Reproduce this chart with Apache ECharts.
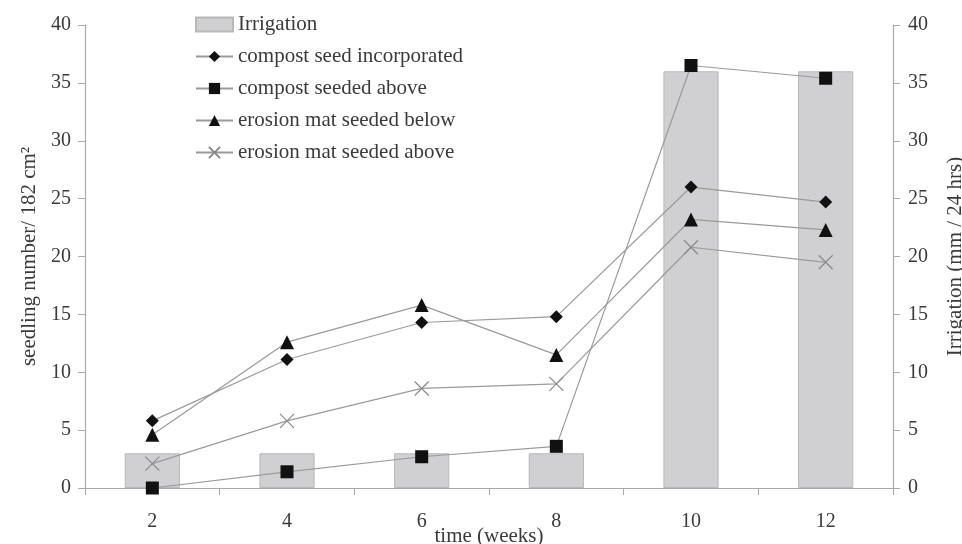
<!DOCTYPE html>
<html><head><meta charset="utf-8">
<script src="https://cdn.jsdelivr.net/npm/echarts@6/dist/echarts.min.js"></script>
<style>html,body{margin:0;padding:0;background:#fff}#c{width:962px;height:544px}</style>
</head><body><div id="c"></div>
<script>
const weeks = ['2','4','6','8','10','12'];
const irrigation = [3, 3, 3, 3, 36, 36];
const compostIncorporated = [5.8, 11.1, 14.3, 14.8, 26.0, 24.7];
const compostAbove = [0, 1.4, 2.7, 3.6, 36.5, 35.4];
const erosionBelow = [4.6, 12.6, 15.8, 11.5, 23.2, 22.3];
const erosionAbove = [2.1, 5.8, 8.6, 9.0, 20.8, 19.5];
const yTicks = {min: 0, max: 40, interval: 5};

const font = 'Liberation Serif, Times New Roman, serif';
const txt = '#3a3a3a';
const lineCol = '#9a9a9a';
const chart = echarts.init(document.getElementById('c'));
const lineSeries = (name, data, symbol, size, extra) => Object.assign({
  name, type: 'line', data, symbol, symbolSize: size, yAxisIndex: 0,
  lineStyle: {color: lineCol, width: 1.2},
  itemStyle: {color: '#111'}, z: 3
}, extra || {});
chart.setOption({
  animation: false,
  textStyle: {fontFamily: font},
  grid: {left: 85, right: 69, top: 25, bottom: 56, outerBoundsMode: 'none', containLabel: false},
  legend: {
    orient: 'vertical', left: 190, top: 9, itemGap: 11, itemWidth: 37, itemHeight: 14,
    textStyle: {fontFamily: font, fontSize: 21, color: txt},
    data: [{name: 'Irrigation', icon: 'rect'},'compost seed incorporated','compost seeded above','erosion mat seeded below','erosion mat seeded above']
  },
  xAxis: {
    type: 'category', data: weeks, boundaryGap: true,
    axisLine: {lineStyle: {color: '#aaa', width: 1.2}},
    axisTick: {show: true, length: 7, lineStyle: {color: '#aaa'}},
    axisLabel: {fontFamily: font, fontSize: 20, color: txt, margin: 24},
    name: 'time (weeks)', nameLocation: 'middle', nameGap: 38, nameMoveOverlap: false,
    nameTextStyle: {fontFamily: font, fontSize: 21, color: txt}
  },
  yAxis: [{
    type: 'value', min: yTicks.min, max: yTicks.max, interval: yTicks.interval,
    axisLine: {show: true, lineStyle: {color: '#aaa', width: 1.2}},
    axisTick: {show: true, length: 7, lineStyle: {color: '#aaa'}},
    splitLine: {show: false},
    axisLabel: {fontFamily: font, fontSize: 20, color: txt, margin: 14},
    name: 'seedling number/ 182 cm²', nameLocation: 'middle', nameGap: 44, nameRotate: 90,
    nameTextStyle: {fontFamily: font, fontSize: 21, color: txt}
  }, {
    type: 'value', min: yTicks.min, max: yTicks.max, interval: yTicks.interval, position: 'right',
    axisLine: {show: true, lineStyle: {color: '#aaa', width: 1.2}},
    axisTick: {show: true, length: 7, lineStyle: {color: '#aaa'}},
    splitLine: {show: false},
    axisLabel: {fontFamily: font, fontSize: 20, color: txt, margin: 15},
    name: 'Irrigation (mm / 24 hrs)', nameLocation: 'middle', nameGap: 52, nameRotate: 90,
    nameTextStyle: {fontFamily: font, fontSize: 21, color: txt}
  }],
  series: [
    {name: 'Irrigation', type: 'bar', yAxisIndex: 1, data: irrigation, barWidth: '41%',
     itemStyle: {color: '#d0d0d2', borderColor: '#b8b8b8', borderWidth: 1}, z: 1},
    lineSeries('compost seed incorporated', compostIncorporated, 'diamond', 13),
    lineSeries('compost seeded above', compostAbove, 'rect', 13),
    lineSeries('erosion mat seeded below', erosionBelow, 'triangle', 14),
    lineSeries('erosion mat seeded above', erosionAbove, 'path://M0,0L10,10M10,0L0,10', 14,
      {itemStyle: {color: 'none', borderColor: '#8a8a8a', borderWidth: 1.2}})
  ]
});
</script></body></html>
